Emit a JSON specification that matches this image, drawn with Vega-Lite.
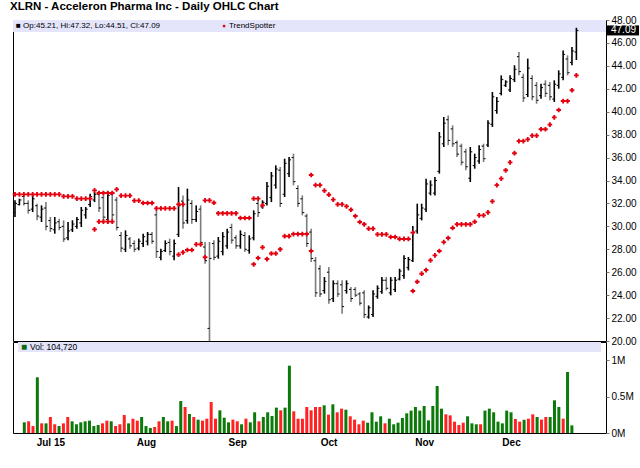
{
  "$schema": "https://vega.github.io/schema/vega-lite/v6.json",
  "background": "white",
  "padding": {"left": 9, "top": 1, "right": 0, "bottom": 0},
  "title": {"text": "XLRN - Acceleron Pharma Inc - Daily OHLC Chart", "anchor": "start", "font": "Liberation Sans", "fontSize": 11.5, "fontWeight": "bold", "color": "#000", "offset": 2, "dx": -2},
  "config": {
    "view": {"stroke": "#000", "strokeWidth": 1},
    "font": "Liberation Sans",
    "axis": {"labelFont": "Liberation Sans", "labelFontSize": 10, "labelColor": "#000", "tickColor": "#777", "grid": false, "domain": false, "labelOverlap": false}
  },
  "resolve": {"scale": {"color": "independent"}},
  "bounds": "flush",
  "spacing": 1,
  "datasets": {
    "bars": [
      {"i":0,"o":31.2,"h":32.27,"l":30.82,"c":32.0,"v":0,"d":"g"},
      {"i":1,"o":31.9,"h":32.41,"l":31.83,"c":32.3,"v":147000,"d":"g"},
      {"i":2,"o":32.6,"h":32.85,"l":31.83,"c":32.0,"v":161000,"d":"r"},
      {"i":3,"o":32.0,"h":32.27,"l":31.11,"c":31.4,"v":96000,"d":"r"},
      {"i":4,"o":31.5,"h":32.76,"l":31.25,"c":32.4,"v":767000,"d":"g"},
      {"i":5,"o":31.8,"h":31.98,"l":30.53,"c":30.9,"v":133000,"d":"r"},
      {"i":6,"o":30.8,"h":31.83,"l":30.38,"c":31.5,"v":133000,"d":"g"},
      {"i":7,"o":31.6,"h":32.12,"l":29.65,"c":30.0,"v":220000,"d":"r"},
      {"i":8,"o":30.5,"h":30.82,"l":29.51,"c":29.8,"v":120000,"d":"r"},
      {"i":9,"o":29.7,"h":30.82,"l":29.36,"c":30.3,"v":96000,"d":"g"},
      {"i":10,"o":30.4,"h":30.67,"l":29.65,"c":29.9,"v":133000,"d":"r"},
      {"i":11,"o":30.0,"h":30.53,"l":28.64,"c":28.9,"v":220000,"d":"r"},
      {"i":12,"o":29.0,"h":30.38,"l":28.78,"c":29.6,"v":161000,"d":"g"},
      {"i":13,"o":29.7,"h":30.53,"l":29.51,"c":30.2,"v":120000,"d":"g"},
      {"i":14,"o":30.0,"h":30.82,"l":29.8,"c":30.6,"v":147000,"d":"g"},
      {"i":15,"o":30.3,"h":31.69,"l":29.94,"c":31.4,"v":161000,"d":"g"},
      {"i":16,"o":31.0,"h":31.69,"l":30.67,"c":31.5,"v":170000,"d":"g"},
      {"i":17,"o":31.9,"h":32.85,"l":31.69,"c":32.6,"v":96000,"d":"g"},
      {"i":18,"o":32.3,"h":32.99,"l":32.12,"c":32.8,"v":110000,"d":"g"},
      {"i":19,"o":32.8,"h":33.05,"l":31.25,"c":31.6,"v":133000,"d":"r"},
      {"i":20,"o":32.5,"h":33.05,"l":30.38,"c":30.8,"v":170000,"d":"r"},
      {"i":21,"o":30.6,"h":33.05,"l":30.23,"c":32.7,"v":161000,"d":"g"},
      {"i":22,"o":32.8,"h":33.05,"l":30.53,"c":31.0,"v":96000,"d":"r"},
      {"i":23,"o":32.3,"h":32.56,"l":29.65,"c":29.9,"v":120000,"d":"r"},
      {"i":24,"o":29.2,"h":29.51,"l":27.76,"c":28.1,"v":248000,"d":"r"},
      {"i":25,"o":28.0,"h":29.65,"l":27.76,"c":29.2,"v":133000,"d":"g"},
      {"i":26,"o":28.9,"h":29.07,"l":28.05,"c":28.3,"v":197000,"d":"r"},
      {"i":27,"o":28.5,"h":28.78,"l":27.76,"c":28.0,"v":170000,"d":"r"},
      {"i":28,"o":28.1,"h":28.93,"l":27.91,"c":28.7,"v":220000,"d":"g"},
      {"i":29,"o":28.5,"h":29.36,"l":28.2,"c":29.1,"v":96000,"d":"g"},
      {"i":30,"o":28.7,"h":29.51,"l":28.34,"c":29.3,"v":69000,"d":"g"},
      {"i":31,"o":29.3,"h":29.51,"l":28.49,"c":28.7,"v":83000,"d":"r"},
      {"i":32,"o":31.0,"h":31.69,"l":27.24,"c":27.8,"v":161000,"d":"r"},
      {"i":33,"o":27.3,"h":28.05,"l":27.04,"c":27.8,"v":220000,"d":"g"},
      {"i":34,"o":27.9,"h":28.78,"l":27.76,"c":28.5,"v":161000,"d":"g"},
      {"i":35,"o":28.6,"h":28.93,"l":27.47,"c":27.8,"v":170000,"d":"r"},
      {"i":36,"o":27.4,"h":28.86,"l":27.04,"c":28.5,"v":96000,"d":"g"},
      {"i":37,"o":29.3,"h":33.43,"l":29.07,"c":31.8,"v":440000,"d":"g"},
      {"i":38,"o":32.2,"h":32.7,"l":29.8,"c":30.3,"v":358000,"d":"r"},
      {"i":39,"o":30.5,"h":33.29,"l":30.23,"c":32.3,"v":262000,"d":"g"},
      {"i":40,"o":32.0,"h":32.27,"l":30.23,"c":30.6,"v":220000,"d":"r"},
      {"i":41,"o":30.6,"h":31.83,"l":30.38,"c":31.3,"v":184000,"d":"g"},
      {"i":42,"o":31.5,"h":31.83,"l":28.34,"c":28.6,"v":170000,"d":"r"},
      {"i":43,"o":28.2,"h":28.64,"l":26.74,"c":27.0,"v":197000,"d":"r"},
      {"i":44,"o":21.1,"h":28.64,"l":20.0,"c":27.2,"v":427000,"d":"r"},
      {"i":45,"o":28.5,"h":28.78,"l":27.04,"c":27.3,"v":197000,"d":"r"},
      {"i":46,"o":27.4,"h":29.07,"l":27.18,"c":28.7,"v":312000,"d":"g"},
      {"i":47,"o":27.8,"h":29.5,"l":27.47,"c":29.1,"v":211000,"d":"g"},
      {"i":48,"o":28.3,"h":29.8,"l":28.05,"c":29.5,"v":147000,"d":"g"},
      {"i":49,"o":29.9,"h":30.23,"l":28.49,"c":28.8,"v":184000,"d":"r"},
      {"i":50,"o":29.0,"h":29.22,"l":28.05,"c":28.3,"v":161000,"d":"r"},
      {"i":51,"o":28.3,"h":29.65,"l":28.05,"c":29.3,"v":120000,"d":"g"},
      {"i":52,"o":29.2,"h":29.5,"l":27.76,"c":28.0,"v":197000,"d":"r"},
      {"i":53,"o":27.9,"h":29.22,"l":27.62,"c":28.9,"v":147000,"d":"g"},
      {"i":54,"o":29.0,"h":31.4,"l":28.78,"c":31.1,"v":285000,"d":"g"},
      {"i":55,"o":32.0,"h":32.27,"l":30.82,"c":31.2,"v":161000,"d":"r"},
      {"i":56,"o":31.7,"h":32.27,"l":31.54,"c":32.1,"v":220000,"d":"g"},
      {"i":57,"o":32.0,"h":33.87,"l":31.83,"c":33.5,"v":285000,"d":"g"},
      {"i":58,"o":32.5,"h":34.74,"l":32.12,"c":34.4,"v":234000,"d":"g"},
      {"i":59,"o":33.6,"h":35.32,"l":33.29,"c":35.0,"v":349000,"d":"g"},
      {"i":60,"o":34.9,"h":35.18,"l":31.69,"c":32.0,"v":312000,"d":"r"},
      {"i":61,"o":32.8,"h":35.9,"l":32.56,"c":35.5,"v":349000,"d":"g"},
      {"i":62,"o":34.6,"h":36.05,"l":34.3,"c":35.8,"v":927000,"d":"g"},
      {"i":63,"o":36.0,"h":36.34,"l":33.58,"c":33.9,"v":298000,"d":"r"},
      {"i":64,"o":33.3,"h":33.58,"l":31.69,"c":32.0,"v":197000,"d":"r"},
      {"i":65,"o":32.4,"h":32.7,"l":30.96,"c":31.2,"v":197000,"d":"r"},
      {"i":66,"o":30.9,"h":31.1,"l":28.2,"c":28.5,"v":358000,"d":"r"},
      {"i":67,"o":29.5,"h":29.8,"l":26.89,"c":27.2,"v":312000,"d":"r"},
      {"i":68,"o":27.0,"h":27.33,"l":23.84,"c":24.2,"v":358000,"d":"r"},
      {"i":69,"o":26.3,"h":26.6,"l":23.84,"c":24.1,"v":358000,"d":"r"},
      {"i":70,"o":24.4,"h":25.58,"l":24.13,"c":25.2,"v":381000,"d":"g"},
      {"i":71,"o":26.0,"h":26.45,"l":23.25,"c":23.6,"v":253000,"d":"r"},
      {"i":72,"o":23.7,"h":25.29,"l":23.4,"c":25.0,"v":395000,"d":"g"},
      {"i":73,"o":25.0,"h":25.29,"l":23.84,"c":24.1,"v":285000,"d":"r"},
      {"i":74,"o":24.9,"h":25.29,"l":22.38,"c":23.0,"v":335000,"d":"r"},
      {"i":75,"o":24.4,"h":25.29,"l":24.13,"c":25.0,"v":321000,"d":"g"},
      {"i":76,"o":24.5,"h":24.7,"l":23.4,"c":23.7,"v":230000,"d":"r"},
      {"i":77,"o":24.5,"h":24.7,"l":23.84,"c":24.0,"v":184000,"d":"r"},
      {"i":78,"o":24.1,"h":24.27,"l":23.1,"c":23.3,"v":120000,"d":"r"},
      {"i":79,"o":24.2,"h":24.42,"l":22.0,"c":22.3,"v":170000,"d":"r"},
      {"i":80,"o":22.1,"h":23.1,"l":21.95,"c":22.9,"v":142000,"d":"g"},
      {"i":81,"o":22.3,"h":24.42,"l":22.09,"c":24.1,"v":285000,"d":"g"},
      {"i":82,"o":23.9,"h":24.85,"l":23.69,"c":24.6,"v":156000,"d":"g"},
      {"i":83,"o":24.3,"h":25.58,"l":24.13,"c":25.3,"v":230000,"d":"g"},
      {"i":84,"o":25.3,"h":25.58,"l":24.42,"c":24.6,"v":133000,"d":"r"},
      {"i":85,"o":24.2,"h":25.58,"l":23.98,"c":25.3,"v":197000,"d":"g"},
      {"i":86,"o":24.5,"h":25.58,"l":24.27,"c":25.3,"v":120000,"d":"g"},
      {"i":87,"o":25.4,"h":26.3,"l":25.29,"c":26.1,"v":142000,"d":"g"},
      {"i":88,"o":25.7,"h":27.47,"l":25.44,"c":27.2,"v":207000,"d":"g"},
      {"i":89,"o":26.4,"h":27.33,"l":26.16,"c":27.1,"v":271000,"d":"g"},
      {"i":90,"o":27.0,"h":30.03,"l":26.89,"c":29.5,"v":308000,"d":"g"},
      {"i":91,"o":29.6,"h":31.98,"l":29.36,"c":31.0,"v":358000,"d":"g"},
      {"i":92,"o":30.7,"h":31.98,"l":30.52,"c":31.6,"v":308000,"d":"g"},
      {"i":93,"o":31.5,"h":34.16,"l":31.25,"c":33.7,"v":372000,"d":"g"},
      {"i":94,"o":32.9,"h":34.01,"l":32.7,"c":33.6,"v":174000,"d":"g"},
      {"i":95,"o":32.9,"h":34.3,"l":32.7,"c":34.0,"v":372000,"d":"g"},
      {"i":96,"o":34.8,"h":38.23,"l":34.6,"c":37.8,"v":647000,"d":"g"},
      {"i":97,"o":37.2,"h":39.54,"l":36.92,"c":39.0,"v":335000,"d":"g"},
      {"i":98,"o":39.3,"h":39.68,"l":37.07,"c":37.5,"v":257000,"d":"r"},
      {"i":99,"o":38.5,"h":38.81,"l":36.92,"c":37.2,"v":243000,"d":"r"},
      {"i":100,"o":37.3,"h":37.5,"l":36.05,"c":36.3,"v":156000,"d":"r"},
      {"i":101,"o":37.0,"h":37.21,"l":35.32,"c":35.6,"v":110000,"d":"r"},
      {"i":102,"o":36.5,"h":36.78,"l":34.89,"c":35.2,"v":142000,"d":"r"},
      {"i":103,"o":34.2,"h":36.92,"l":33.87,"c":36.5,"v":230000,"d":"g"},
      {"i":104,"o":35.3,"h":36.34,"l":35.03,"c":36.0,"v":133000,"d":"g"},
      {"i":105,"o":35.7,"h":37.07,"l":35.47,"c":36.7,"v":120000,"d":"g"},
      {"i":106,"o":37.0,"h":37.21,"l":35.61,"c":35.9,"v":120000,"d":"r"},
      {"i":107,"o":37.1,"h":39.25,"l":36.92,"c":39.0,"v":308000,"d":"g"},
      {"i":108,"o":38.9,"h":41.72,"l":38.67,"c":41.3,"v":335000,"d":"g"},
      {"i":109,"o":40.1,"h":41.28,"l":39.83,"c":40.9,"v":285000,"d":"g"},
      {"i":110,"o":41.6,"h":43.17,"l":41.43,"c":42.8,"v":156000,"d":"g"},
      {"i":111,"o":42.3,"h":42.74,"l":42.16,"c":42.6,"v":133000,"d":"g"},
      {"i":112,"o":41.9,"h":43.17,"l":41.72,"c":42.9,"v":308000,"d":"g"},
      {"i":113,"o":42.8,"h":44.05,"l":42.59,"c":43.7,"v":285000,"d":"g"},
      {"i":114,"o":44.8,"h":45.21,"l":43.17,"c":43.5,"v":193000,"d":"r"},
      {"i":115,"o":43.0,"h":43.32,"l":40.85,"c":41.2,"v":156000,"d":"r"},
      {"i":116,"o":41.5,"h":44.63,"l":41.28,"c":43.8,"v":184000,"d":"g"},
      {"i":117,"o":42.9,"h":43.17,"l":40.99,"c":41.3,"v":197000,"d":"r"},
      {"i":118,"o":42.3,"h":42.59,"l":40.7,"c":41.0,"v":257000,"d":"r"},
      {"i":119,"o":41.4,"h":42.45,"l":41.14,"c":42.1,"v":220000,"d":"g"},
      {"i":120,"o":42.4,"h":42.74,"l":41.28,"c":41.6,"v":184000,"d":"r"},
      {"i":121,"o":42.3,"h":42.59,"l":40.99,"c":41.3,"v":220000,"d":"r"},
      {"i":122,"o":41.1,"h":42.74,"l":40.85,"c":42.4,"v":220000,"d":"g"},
      {"i":123,"o":42.3,"h":43.61,"l":42.01,"c":43.3,"v":450000,"d":"g"},
      {"i":124,"o":43.0,"h":45.35,"l":42.74,"c":45.0,"v":358000,"d":"g"},
      {"i":125,"o":44.6,"h":44.92,"l":43.17,"c":43.4,"v":197000,"d":"r"},
      {"i":126,"o":44.3,"h":45.64,"l":44.05,"c":45.3,"v":840000,"d":"g"},
      {"i":127,"o":45.21,"h":47.32,"l":44.51,"c":47.09,"v":104720,"d":"g"}
    ],
    "ts": [
      {"i":0,"v":32.79},{"i":1,"v":32.79},{"i":2,"v":32.79},{"i":3,"v":32.79},{"i":4,"v":32.79},{"i":5,"v":32.79},
      {"i":6,"v":32.79},{"i":7,"v":32.79},{"i":8,"v":32.79},{"i":9,"v":32.79},{"i":10,"v":32.79},
      {"i":11,"v":32.62},{"i":12,"v":32.62},{"i":13,"v":32.62},
      {"i":14,"v":32.42},{"i":15,"v":32.42},{"i":16,"v":32.42},{"i":17,"v":32.42},
      {"i":18,"v":33.14},{"i":18,"v":29.74},
      {"i":19,"v":32.91},{"i":20,"v":32.91},{"i":21,"v":32.91},{"i":22,"v":32.91},
      {"i":19,"v":30.41},{"i":20,"v":30.41},{"i":21,"v":30.41},{"i":22,"v":30.41},
      {"i":23,"v":33.23},
      {"i":24,"v":32.68},{"i":25,"v":32.68},{"i":26,"v":32.68},
      {"i":27,"v":32.24},{"i":28,"v":32.24},
      {"i":29,"v":32.04},{"i":30,"v":32.04},{"i":31,"v":32.04},
      {"i":32,"v":31.57},{"i":33,"v":31.57},{"i":34,"v":31.57},{"i":35,"v":31.57},{"i":36,"v":31.57},
      {"i":37,"v":31.92},{"i":38,"v":31.92},
      {"i":37,"v":27.53},{"i":38,"v":27.73},
      {"i":39,"v":27.94},{"i":40,"v":27.94},
      {"i":41,"v":28.43},{"i":42,"v":28.43},
      {"i":43,"v":32.27},{"i":44,"v":32.27},{"i":45,"v":32.06},
      {"i":43,"v":27.3},
      {"i":46,"v":31.14},{"i":47,"v":31.14},{"i":48,"v":31.14},{"i":49,"v":31.14},{"i":50,"v":31.14},
      {"i":51,"v":30.73},{"i":52,"v":30.73},{"i":53,"v":30.73},
      {"i":54,"v":32.42},{"i":55,"v":32.42},{"i":56,"v":31.83},
      {"i":54,"v":26.69},{"i":55,"v":27.24},{"i":56,"v":28.17},
      {"i":57,"v":27.15},{"i":58,"v":27.63},{"i":59,"v":27.63},{"i":60,"v":28.0},
      {"i":61,"v":29.14},{"i":62,"v":29.14},
      {"i":63,"v":29.33},{"i":64,"v":29.33},{"i":65,"v":29.33},{"i":66,"v":29.33},
      {"i":67,"v":34.48},{"i":67,"v":27.85},
      {"i":68,"v":33.6},{"i":69,"v":33.6},{"i":70,"v":33.12},{"i":71,"v":32.76},{"i":72,"v":32.33},
      {"i":73,"v":31.92},{"i":74,"v":31.92},{"i":75,"v":31.74},{"i":76,"v":31.45},{"i":77,"v":30.9},
      {"i":78,"v":30.38},{"i":79,"v":30.18},{"i":80,"v":29.8},{"i":81,"v":29.8},
      {"i":82,"v":29.3},{"i":83,"v":29.3},{"i":84,"v":29.3},{"i":85,"v":29.07},{"i":86,"v":29.07},
      {"i":87,"v":28.9},{"i":88,"v":28.9},{"i":89,"v":28.9},
      {"i":90,"v":29.45},{"i":90,"v":24.36},
      {"i":91,"v":25.17},{"i":92,"v":25.87},{"i":93,"v":26.19},{"i":94,"v":27.03},{"i":95,"v":27.47},
      {"i":96,"v":27.85},{"i":97,"v":28.63},{"i":98,"v":28.98},{"i":99,"v":29.86},
      {"i":100,"v":30.18},{"i":101,"v":30.18},{"i":102,"v":30.18},{"i":103,"v":30.18},
      {"i":104,"v":30.4},{"i":105,"v":30.96},{"i":106,"v":30.96},{"i":107,"v":31.22},
      {"i":108,"v":32.18},{"i":109,"v":33.6},{"i":110,"v":34.16},{"i":111,"v":34.89},{"i":112,"v":35.58},
      {"i":113,"v":36.38},{"i":114,"v":37.43},{"i":115,"v":37.43},{"i":116,"v":37.59},
      {"i":117,"v":37.91},{"i":118,"v":37.91},{"i":119,"v":38.47},{"i":120,"v":38.47},
      {"i":121,"v":38.87},{"i":122,"v":39.51},{"i":123,"v":40.15},{"i":124,"v":40.93},{"i":125,"v":40.93},
      {"i":126,"v":41.87},{"i":127,"v":43.17}
    ]
  },
  "vconcat": [
    {
      "width": 593,
      "height": 321,
      "layer": [
        {
          "data": {"values": [{}]},
          "mark": {"type": "rect", "color": "#e4e4fa"},
          "encoding": {
            "x": {"datum": -0.45, "type": "quantitative", "scale": {"domain": [-0.45, 133.7], "nice": false, "zero": false}, "axis": null},
            "x2": {"datum": 133.7},
            "y": {"datum": 46.95, "type": "quantitative", "scale": {"domain": [20, 48], "nice": false, "zero": false}, "title": null,
              "axis": {"orient": "right", "tickCount": 14, "format": ".2f", "tickSize": 3, "labelPadding": 2, "labelOverlap": false, "title": null}},
            "y2": {"datum": 48}
          }
        },
        {
          "data": {"name": "bars"},
          "mark": {"type": "rule", "strokeWidth": 1.6},
          "encoding": {
            "x": {"field": "i", "type": "quantitative"},
            "y": {"field": "l", "type": "quantitative", "title": null,
              "axis": {"orient": "right", "tickCount": 14, "format": ".2f", "tickSize": 3, "labelPadding": 2, "labelOverlap": false, "title": null}},
            "y2": {"field": "h"},
            "color": {"field": "d", "type": "nominal", "scale": {"domain": ["g", "r"], "range": ["#000000", "#7c7c7c"]}, "legend": null}
          }
        },
        {
          "data": {"name": "bars"},
          "mark": {"type": "rule", "strokeWidth": 1, "color": "#000", "xOffset": -2, "x2Offset": 0},
          "encoding": {
            "x": {"field": "i", "type": "quantitative"},
            "x2": {"field": "i"},
            "y": {"field": "o", "type": "quantitative", "title": null}
          }
        },
        {
          "data": {"name": "bars"},
          "mark": {"type": "rule", "strokeWidth": 1, "color": "#000", "xOffset": 0, "x2Offset": 2},
          "encoding": {
            "x": {"field": "i", "type": "quantitative"},
            "x2": {"field": "i"},
            "y": {"field": "c", "type": "quantitative", "title": null}
          }
        },
        {
          "data": {"name": "ts"},
          "mark": {"type": "point", "shape": "cross", "filled": true, "size": 22, "color": "#e3000f", "opacity": 1},
          "encoding": {
            "x": {"field": "i", "type": "quantitative"},
            "y": {"field": "v", "type": "quantitative", "title": null}
          }
        },
        {
          "data": {"values": [{}]},
          "mark": {"type": "text", "align": "left", "baseline": "middle", "fontSize": 8, "dx": 3, "color": "#000"},
          "encoding": {
            "x": {"datum": -0.45, "type": "quantitative"},
            "y": {"datum": 47.47, "type": "quantitative"},
            "text": {"value": "■ Op:45.21, Hi:47.32, Lo:44.51, Cl:47.09"}
          }
        },
        {
          "data": {"values": [{}]},
          "mark": {"type": "point", "shape": "circle", "filled": true, "size": 8, "color": "#e3000f", "opacity": 1},
          "encoding": {
            "x": {"datum": 47.3, "type": "quantitative"},
            "y": {"datum": 47.47, "type": "quantitative"}
          }
        },
        {
          "data": {"values": [{}]},
          "mark": {"type": "text", "align": "left", "baseline": "middle", "fontSize": 8, "color": "#000"},
          "encoding": {
            "x": {"datum": 48.4, "type": "quantitative"},
            "y": {"datum": 47.47, "type": "quantitative"},
            "text": {"value": "TrendSpotter"}
          }
        },
        {
          "data": {"values": [{}]},
          "mark": {"type": "rule", "strokeWidth": 10, "color": "#000", "xOffset": 1, "x2Offset": 33},
          "encoding": {
            "x": {"datum": 133.7, "type": "quantitative"},
            "x2": {"datum": 133.7},
            "y": {"datum": 47.09, "type": "quantitative"}
          }
        },
        {
          "data": {"values": [{}]},
          "mark": {"type": "text", "align": "left", "baseline": "middle", "fontSize": 10, "dx": 5, "color": "#fff"},
          "encoding": {
            "x": {"datum": 133.7, "type": "quantitative"},
            "y": {"datum": 47.09, "type": "quantitative"},
            "text": {"value": "47.09"}
          }
        }
      ]
    },
    {
      "width": 593,
      "height": 91,
      "layer": [
        {
          "data": {"values": [{}]},
          "mark": {"type": "rect", "color": "#e4e4fa"},
          "encoding": {
            "x": {"datum": -0.45, "type": "quantitative", "scale": {"domain": [-0.45, 133.7], "nice": false, "zero": false},
              "axis": {"values": [7, 29, 50, 71, 93, 113], "ticks": false, "labelPadding": 4, "labelFontWeight": "bold", "labelFontSize": 10, "title": null,
                "labelExpr": "datum.value == 7 ? 'Jul 15' : datum.value == 29 ? 'Aug' : datum.value == 50 ? 'Sep' : datum.value == 71 ? 'Oct' : datum.value == 93 ? 'Nov' : 'Dec'"}},
            "x2": {"datum": 133.7},
            "y": {"datum": 1116000, "type": "quantitative", "scale": {"domain": [0, 1253000], "nice": false}, "title": null,
              "axis": {"orient": "right", "values": [0, 500000, 1000000], "tickSize": 3, "labelPadding": 2, "title": null,
                "labelExpr": "datum.value == 0 ? '0M' : datum.value == 500000 ? '0.5M' : '1M'"}},
            "y2": {"datum": 1253000}
          }
        },
        {
          "data": {"name": "bars"},
          "mark": {"type": "bar", "size": 3},
          "encoding": {
            "x": {"field": "i", "type": "quantitative",
              "axis": {"values": [7, 29, 50, 71, 93, 113], "ticks": false, "labelPadding": 4, "labelFontWeight": "bold", "labelFontSize": 10, "title": null,
                "labelExpr": "datum.value == 7 ? 'Jul 15' : datum.value == 29 ? 'Aug' : datum.value == 50 ? 'Sep' : datum.value == 71 ? 'Oct' : datum.value == 93 ? 'Nov' : 'Dec'"}},
            "y": {"field": "v", "type": "quantitative", "title": null,
              "axis": {"orient": "right", "values": [0, 500000, 1000000], "tickSize": 3, "labelPadding": 2, "title": null,
                "labelExpr": "datum.value == 0 ? '0M' : datum.value == 500000 ? '0.5M' : '1M'"}},
            "color": {"field": "d", "type": "nominal", "scale": {"domain": ["g", "r"], "range": ["#0b7a0b", "#ff2222"]}, "legend": null}
          }
        },
        {
          "data": {"values": [{}]},
          "mark": {"type": "text", "align": "left", "baseline": "middle", "fontSize": 10, "dx": 3, "color": "#0b6a0b"},
          "encoding": {
            "x": {"datum": -0.45, "type": "quantitative"},
            "y": {"datum": 1185000, "type": "quantitative"},
            "text": {"value": "■"}
          }
        },
        {
          "data": {"values": [{}]},
          "mark": {"type": "text", "align": "left", "baseline": "middle", "fontSize": 8.5, "dx": 12, "color": "#000"},
          "encoding": {
            "x": {"datum": -0.45, "type": "quantitative"},
            "y": {"datum": 1185000, "type": "quantitative"},
            "text": {"value": "Vol: 104,720"}
          }
        }
      ]
    }
  ]
}
